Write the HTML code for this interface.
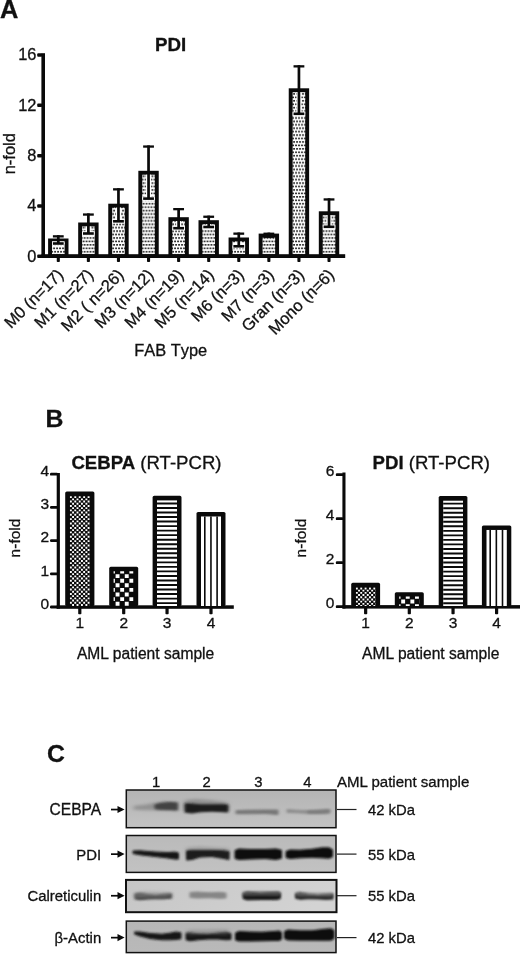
<!DOCTYPE html>
<html><head><meta charset="utf-8"><title>Figure</title>
<style>html,body{margin:0;padding:0;background:#fff}svg{display:block}text{font-family:"Liberation Sans",Arial,Helvetica,sans-serif;fill:#111;stroke:#111;stroke-width:0.3px}</style>
</head><body>
<svg width="520" height="954" viewBox="0 0 520 954">
<defs>
<pattern id="dots" width="2.95" height="6.86" patternUnits="userSpaceOnUse"><rect width="2.95" height="6.86" fill="#fff"/><rect x="0.15" y="0.45" width="1.75" height="1.75" rx="0.4" fill="#111"/><rect x="1.15" y="3.88" width="1.75" height="1.75" rx="0.4" fill="#111"/></pattern>
<pattern id="chkF" width="4.46" height="4.46" patternUnits="userSpaceOnUse"><rect width="4.46" height="4.46" fill="#000"/><rect x="0.3" y="0.3" width="1.7" height="1.7" fill="#fff"/><rect x="2.53" y="2.53" width="1.7" height="1.7" fill="#fff"/></pattern>
<pattern id="chkC" width="8.92" height="8.92" patternUnits="userSpaceOnUse"><rect width="8.92" height="8.92" fill="#000"/><rect x="0" y="0" width="4.46" height="4.46" fill="#fff"/><rect x="4.46" y="4.46" width="4.46" height="4.46" fill="#fff"/></pattern>
<pattern id="hst" width="10" height="4.55" patternUnits="userSpaceOnUse"><rect width="10" height="4.55" fill="#fff"/><rect x="0" y="0" width="10" height="1.9" fill="#000"/></pattern>
<pattern id="vst" width="6.15" height="10" patternUnits="userSpaceOnUse"><rect width="6.15" height="10" fill="#fff"/><rect x="0" y="0" width="1.6" height="10" fill="#000"/></pattern>
<filter id="b1" x="-20%" y="-100%" width="140%" height="300%"><feGaussianBlur stdDeviation="1.6 1.2"/></filter>
<filter id="b2" x="-20%" y="-100%" width="140%" height="300%"><feGaussianBlur stdDeviation="2.4 1.8"/></filter>
<filter id="b0" x="-20%" y="-100%" width="140%" height="300%"><feGaussianBlur stdDeviation="1.25 0.85"/></filter>
</defs>
<rect width="520" height="954" fill="#fff"/>
<g id="panelA">
<text x="0.1" y="17.7" font-size="25.4" font-weight="bold">A</text>
<text x="155.1" y="51" font-size="18.7" font-weight="bold">PDI</text>
<rect x="41.4" y="53.2" width="3.6" height="204.8" fill="#0a0a0a"/>
<rect x="41.4" y="254.2" width="303.8" height="3.8" fill="#0a0a0a"/>
<rect x="37.2" y="254.55" width="5" height="3.5" rx="1" fill="#0a0a0a"/>
<text x="36.4" y="261.50" font-size="16.4" text-anchor="end">0</text>
<rect x="37.2" y="204.22" width="5" height="3.5" rx="1" fill="#0a0a0a"/>
<text x="36.4" y="211.17" font-size="16.4" text-anchor="end">4</text>
<rect x="37.2" y="153.89" width="5" height="3.5" rx="1" fill="#0a0a0a"/>
<text x="36.4" y="160.84" font-size="16.4" text-anchor="end">8</text>
<rect x="37.2" y="103.55" width="5" height="3.5" rx="1" fill="#0a0a0a"/>
<text x="36.4" y="110.50" font-size="16.4" text-anchor="end">12</text>
<rect x="37.2" y="53.22" width="5" height="3.5" rx="1" fill="#0a0a0a"/>
<text x="36.4" y="60.17" font-size="16.4" text-anchor="end">16</text>
<text transform="translate(14.6,153.7) rotate(-90)" font-size="16.5" text-anchor="middle">n-fold</text>
<rect x="50.05" y="240.45" width="16.50" height="15.55" fill="url(#dots)" stroke="#0a0a0a" stroke-width="3.9"/>
<rect x="55.80" y="242.40" width="5.0" height="2.60" fill="#fff"/>
<rect x="52.00" y="241.20" width="12.6" height="4.6" fill="#fff"/>
<rect x="56.95" y="235.20" width="2.7" height="8.30" fill="#0a0a0a"/>
<rect x="52.90" y="235.20" width="10.8" height="2.3" fill="#0a0a0a"/>
<rect x="52.90" y="242.20" width="10.8" height="2.6" fill="#0a0a0a"/>
<rect x="56.75" y="257" width="3.1" height="5" rx="0.8" fill="#0a0a0a"/>
<text transform="translate(64.40,275.80) rotate(-45)" font-size="16.5" text-anchor="end">M0 (n=17)</text>
<rect x="80.13" y="224.45" width="16.50" height="31.55" fill="url(#dots)" stroke="#0a0a0a" stroke-width="3.9"/>
<rect x="85.88" y="226.40" width="5.0" height="8.60" fill="#fff"/>
<rect x="82.08" y="231.20" width="12.6" height="4.6" fill="#fff"/>
<rect x="87.03" y="213.40" width="2.7" height="20.10" fill="#0a0a0a"/>
<rect x="82.98" y="213.40" width="10.8" height="2.3" fill="#0a0a0a"/>
<rect x="82.98" y="232.20" width="10.8" height="2.6" fill="#0a0a0a"/>
<rect x="86.83" y="257" width="3.1" height="5" rx="0.8" fill="#0a0a0a"/>
<text transform="translate(94.48,275.80) rotate(-45)" font-size="16.5" text-anchor="end">M1 (n=27)</text>
<rect x="110.21" y="205.65" width="16.50" height="50.35" fill="url(#dots)" stroke="#0a0a0a" stroke-width="3.9"/>
<rect x="115.96" y="207.60" width="5.0" height="15.20" fill="#fff"/>
<rect x="112.16" y="219.00" width="12.6" height="4.6" fill="#fff"/>
<rect x="117.11" y="188.20" width="2.7" height="33.10" fill="#0a0a0a"/>
<rect x="113.06" y="188.20" width="10.8" height="2.3" fill="#0a0a0a"/>
<rect x="113.06" y="220.00" width="10.8" height="2.6" fill="#0a0a0a"/>
<rect x="116.91" y="257" width="3.1" height="5" rx="0.8" fill="#0a0a0a"/>
<text transform="translate(124.56,275.80) rotate(-45)" font-size="16.5" text-anchor="end">M2 ( n=26)</text>
<rect x="140.29" y="172.75" width="16.50" height="83.25" fill="url(#dots)" stroke="#0a0a0a" stroke-width="3.9"/>
<rect x="146.04" y="174.70" width="5.0" height="25.40" fill="#fff"/>
<rect x="142.24" y="196.30" width="12.6" height="4.6" fill="#fff"/>
<rect x="147.19" y="145.40" width="2.7" height="53.20" fill="#0a0a0a"/>
<rect x="143.14" y="145.40" width="10.8" height="2.3" fill="#0a0a0a"/>
<rect x="143.14" y="197.30" width="10.8" height="2.6" fill="#0a0a0a"/>
<rect x="146.99" y="257" width="3.1" height="5" rx="0.8" fill="#0a0a0a"/>
<text transform="translate(154.64,275.80) rotate(-45)" font-size="16.5" text-anchor="end">M3 (n=12)</text>
<rect x="170.37" y="219.15" width="16.50" height="36.85" fill="url(#dots)" stroke="#0a0a0a" stroke-width="3.9"/>
<rect x="176.12" y="221.10" width="5.0" height="8.60" fill="#fff"/>
<rect x="172.32" y="225.90" width="12.6" height="4.6" fill="#fff"/>
<rect x="177.27" y="208.00" width="2.7" height="20.20" fill="#0a0a0a"/>
<rect x="173.22" y="208.00" width="10.8" height="2.3" fill="#0a0a0a"/>
<rect x="173.22" y="226.90" width="10.8" height="2.6" fill="#0a0a0a"/>
<rect x="177.07" y="257" width="3.1" height="5" rx="0.8" fill="#0a0a0a"/>
<text transform="translate(184.72,275.80) rotate(-45)" font-size="16.5" text-anchor="end">M4 (n=19)</text>
<rect x="200.45" y="222.15" width="16.50" height="33.85" fill="url(#dots)" stroke="#0a0a0a" stroke-width="3.9"/>
<rect x="206.20" y="224.10" width="5.0" height="4.40" fill="#fff"/>
<rect x="202.40" y="224.70" width="12.6" height="4.6" fill="#fff"/>
<rect x="207.35" y="215.60" width="2.7" height="11.40" fill="#0a0a0a"/>
<rect x="203.30" y="215.60" width="10.8" height="2.3" fill="#0a0a0a"/>
<rect x="203.30" y="225.70" width="10.8" height="2.6" fill="#0a0a0a"/>
<rect x="207.15" y="257" width="3.1" height="5" rx="0.8" fill="#0a0a0a"/>
<text transform="translate(214.80,275.80) rotate(-45)" font-size="16.5" text-anchor="end">M5 (n=14)</text>
<rect x="230.53" y="239.45" width="16.50" height="16.55" fill="url(#dots)" stroke="#0a0a0a" stroke-width="3.9"/>
<rect x="236.28" y="241.40" width="5.0" height="6.40" fill="#fff"/>
<rect x="232.48" y="244.00" width="12.6" height="4.6" fill="#fff"/>
<rect x="237.43" y="232.50" width="2.7" height="13.80" fill="#0a0a0a"/>
<rect x="233.38" y="232.50" width="10.8" height="2.3" fill="#0a0a0a"/>
<rect x="233.38" y="245.00" width="10.8" height="2.6" fill="#0a0a0a"/>
<rect x="237.23" y="257" width="3.1" height="5" rx="0.8" fill="#0a0a0a"/>
<text transform="translate(244.88,275.80) rotate(-45)" font-size="16.5" text-anchor="end">M6 (n=3)</text>
<rect x="260.61" y="235.55" width="16.50" height="20.45" fill="url(#dots)" stroke="#0a0a0a" stroke-width="3.9"/>
<rect x="267.51" y="232.60" width="2.7" height="4.00" fill="#0a0a0a"/>
<rect x="263.46" y="232.60" width="10.8" height="2.3" fill="#0a0a0a"/>
<rect x="263.46" y="235.30" width="10.8" height="2.6" fill="#0a0a0a"/>
<rect x="267.31" y="257" width="3.1" height="5" rx="0.8" fill="#0a0a0a"/>
<text transform="translate(274.96,275.80) rotate(-45)" font-size="16.5" text-anchor="end">M7 (n=3)</text>
<rect x="290.69" y="90.25" width="16.50" height="165.75" fill="url(#dots)" stroke="#0a0a0a" stroke-width="3.9"/>
<rect x="296.44" y="92.20" width="5.0" height="23.10" fill="#fff"/>
<rect x="292.64" y="111.50" width="12.6" height="4.6" fill="#fff"/>
<rect x="297.59" y="65.20" width="2.7" height="48.60" fill="#0a0a0a"/>
<rect x="293.54" y="65.20" width="10.8" height="2.3" fill="#0a0a0a"/>
<rect x="293.54" y="112.50" width="10.8" height="2.6" fill="#0a0a0a"/>
<rect x="297.39" y="257" width="3.1" height="5" rx="0.8" fill="#0a0a0a"/>
<text transform="translate(305.04,275.80) rotate(-45)" font-size="16.5" text-anchor="end">Gran (n=3)</text>
<rect x="320.77" y="213.25" width="16.50" height="42.75" fill="url(#dots)" stroke="#0a0a0a" stroke-width="3.9"/>
<rect x="326.52" y="215.20" width="5.0" height="13.10" fill="#fff"/>
<rect x="322.72" y="224.50" width="12.6" height="4.6" fill="#fff"/>
<rect x="327.67" y="198.30" width="2.7" height="28.50" fill="#0a0a0a"/>
<rect x="323.62" y="198.30" width="10.8" height="2.3" fill="#0a0a0a"/>
<rect x="323.62" y="225.50" width="10.8" height="2.6" fill="#0a0a0a"/>
<rect x="327.47" y="257" width="3.1" height="5" rx="0.8" fill="#0a0a0a"/>
<text transform="translate(335.12,275.80) rotate(-45)" font-size="16.5" text-anchor="end">Mono (n=6)</text>
<text x="170.7" y="355.6" font-size="16.4" text-anchor="middle" style="font-kerning:none">FAB Type</text>
</g>
<g id="panelB">
<text x="45.5" y="427" font-size="24.8" font-weight="bold">B</text>
<text x="71.4" y="469.2" font-size="18.6"><tspan font-weight="bold">CEBPA</tspan> (RT-PCR)</text>
<text x="372.6" y="469.2" font-size="18.6"><tspan font-weight="bold">PDI</tspan> (RT-PCR)</text>
<rect x="56.7" y="473" width="3.2" height="135.6" fill="#0a0a0a"/>
<rect x="56.7" y="605.3" width="177.1" height="3.5" fill="#0a0a0a"/>
<rect x="50" y="605.60" width="8" height="2.8" rx="1.2" fill="#0a0a0a"/>
<text x="49.2" y="608.70" font-size="15.5" text-anchor="end">0</text>
<rect x="50" y="572.40" width="8" height="2.8" rx="1.2" fill="#0a0a0a"/>
<text x="49.2" y="575.50" font-size="15.5" text-anchor="end">1</text>
<rect x="50" y="539.20" width="8" height="2.8" rx="1.2" fill="#0a0a0a"/>
<text x="49.2" y="542.30" font-size="15.5" text-anchor="end">2</text>
<rect x="50" y="506.00" width="8" height="2.8" rx="1.2" fill="#0a0a0a"/>
<text x="49.2" y="509.10" font-size="15.5" text-anchor="end">3</text>
<rect x="50" y="472.80" width="8" height="2.8" rx="1.2" fill="#0a0a0a"/>
<text x="49.2" y="475.90" font-size="15.5" text-anchor="end">4</text>
<text transform="translate(19.5,538) rotate(-90)" font-size="15.5" text-anchor="middle">n-fold</text>
<rect x="65.20" y="491.50" width="29.20" height="114.50" rx="1.6" fill="#0a0a0a"/>
<clipPath id="cl1"><rect x="69.60" y="495.90" width="20.40" height="110.10"/></clipPath>
<g clip-path="url(#cl1)" fill="#fff">
<path d="M69.90 496.20h1.9v1.9h-1.9zM74.33 496.20h1.9v1.9h-1.9zM78.77 496.20h1.9v1.9h-1.9zM83.20 496.20h1.9v1.9h-1.9zM87.64 496.20h1.9v1.9h-1.9zM72.12 498.40h1.9v1.9h-1.9zM76.55 498.40h1.9v1.9h-1.9zM80.99 498.40h1.9v1.9h-1.9zM85.42 498.40h1.9v1.9h-1.9zM89.86 498.40h1.9v1.9h-1.9zM69.90 500.60h1.9v1.9h-1.9zM74.33 500.60h1.9v1.9h-1.9zM78.77 500.60h1.9v1.9h-1.9zM83.20 500.60h1.9v1.9h-1.9zM87.64 500.60h1.9v1.9h-1.9zM72.12 502.80h1.9v1.9h-1.9zM76.55 502.80h1.9v1.9h-1.9zM80.99 502.80h1.9v1.9h-1.9zM85.42 502.80h1.9v1.9h-1.9zM89.86 502.80h1.9v1.9h-1.9zM69.90 505.00h1.9v1.9h-1.9zM74.33 505.00h1.9v1.9h-1.9zM78.77 505.00h1.9v1.9h-1.9zM83.20 505.00h1.9v1.9h-1.9zM87.64 505.00h1.9v1.9h-1.9zM72.12 507.20h1.9v1.9h-1.9zM76.55 507.20h1.9v1.9h-1.9zM80.99 507.20h1.9v1.9h-1.9zM85.42 507.20h1.9v1.9h-1.9zM89.86 507.20h1.9v1.9h-1.9zM69.90 509.40h1.9v1.9h-1.9zM74.33 509.40h1.9v1.9h-1.9zM78.77 509.40h1.9v1.9h-1.9zM83.20 509.40h1.9v1.9h-1.9zM87.64 509.40h1.9v1.9h-1.9zM72.12 511.60h1.9v1.9h-1.9zM76.55 511.60h1.9v1.9h-1.9zM80.99 511.60h1.9v1.9h-1.9zM85.42 511.60h1.9v1.9h-1.9zM89.86 511.60h1.9v1.9h-1.9zM69.90 513.80h1.9v1.9h-1.9zM74.33 513.80h1.9v1.9h-1.9zM78.77 513.80h1.9v1.9h-1.9zM83.20 513.80h1.9v1.9h-1.9zM87.64 513.80h1.9v1.9h-1.9zM72.12 516.00h1.9v1.9h-1.9zM76.55 516.00h1.9v1.9h-1.9zM80.99 516.00h1.9v1.9h-1.9zM85.42 516.00h1.9v1.9h-1.9zM89.86 516.00h1.9v1.9h-1.9zM69.90 518.20h1.9v1.9h-1.9zM74.33 518.20h1.9v1.9h-1.9zM78.77 518.20h1.9v1.9h-1.9zM83.20 518.20h1.9v1.9h-1.9zM87.64 518.20h1.9v1.9h-1.9zM72.12 520.40h1.9v1.9h-1.9zM76.55 520.40h1.9v1.9h-1.9zM80.99 520.40h1.9v1.9h-1.9zM85.42 520.40h1.9v1.9h-1.9zM89.86 520.40h1.9v1.9h-1.9zM69.90 522.60h1.9v1.9h-1.9zM74.33 522.60h1.9v1.9h-1.9zM78.77 522.60h1.9v1.9h-1.9zM83.20 522.60h1.9v1.9h-1.9zM87.64 522.60h1.9v1.9h-1.9zM72.12 524.80h1.9v1.9h-1.9zM76.55 524.80h1.9v1.9h-1.9zM80.99 524.80h1.9v1.9h-1.9zM85.42 524.80h1.9v1.9h-1.9zM89.86 524.80h1.9v1.9h-1.9zM69.90 527.00h1.9v1.9h-1.9zM74.33 527.00h1.9v1.9h-1.9zM78.77 527.00h1.9v1.9h-1.9zM83.20 527.00h1.9v1.9h-1.9zM87.64 527.00h1.9v1.9h-1.9zM72.12 529.20h1.9v1.9h-1.9zM76.55 529.20h1.9v1.9h-1.9zM80.99 529.20h1.9v1.9h-1.9zM85.42 529.20h1.9v1.9h-1.9zM89.86 529.20h1.9v1.9h-1.9zM69.90 531.40h1.9v1.9h-1.9zM74.33 531.40h1.9v1.9h-1.9zM78.77 531.40h1.9v1.9h-1.9zM83.20 531.40h1.9v1.9h-1.9zM87.64 531.40h1.9v1.9h-1.9zM72.12 533.60h1.9v1.9h-1.9zM76.55 533.60h1.9v1.9h-1.9zM80.99 533.60h1.9v1.9h-1.9zM85.42 533.60h1.9v1.9h-1.9zM89.86 533.60h1.9v1.9h-1.9zM69.90 535.80h1.9v1.9h-1.9zM74.33 535.80h1.9v1.9h-1.9zM78.77 535.80h1.9v1.9h-1.9zM83.20 535.80h1.9v1.9h-1.9zM87.64 535.80h1.9v1.9h-1.9zM72.12 538.00h1.9v1.9h-1.9zM76.55 538.00h1.9v1.9h-1.9zM80.99 538.00h1.9v1.9h-1.9zM85.42 538.00h1.9v1.9h-1.9zM89.86 538.00h1.9v1.9h-1.9zM69.90 540.20h1.9v1.9h-1.9zM74.33 540.20h1.9v1.9h-1.9zM78.77 540.20h1.9v1.9h-1.9zM83.20 540.20h1.9v1.9h-1.9zM87.64 540.20h1.9v1.9h-1.9zM72.12 542.40h1.9v1.9h-1.9zM76.55 542.40h1.9v1.9h-1.9zM80.99 542.40h1.9v1.9h-1.9zM85.42 542.40h1.9v1.9h-1.9zM89.86 542.40h1.9v1.9h-1.9zM69.90 544.60h1.9v1.9h-1.9zM74.33 544.60h1.9v1.9h-1.9zM78.77 544.60h1.9v1.9h-1.9zM83.20 544.60h1.9v1.9h-1.9zM87.64 544.60h1.9v1.9h-1.9zM72.12 546.80h1.9v1.9h-1.9zM76.55 546.80h1.9v1.9h-1.9zM80.99 546.80h1.9v1.9h-1.9zM85.42 546.80h1.9v1.9h-1.9zM89.86 546.80h1.9v1.9h-1.9zM69.90 549.00h1.9v1.9h-1.9zM74.33 549.00h1.9v1.9h-1.9zM78.77 549.00h1.9v1.9h-1.9zM83.20 549.00h1.9v1.9h-1.9zM87.64 549.00h1.9v1.9h-1.9zM72.12 551.20h1.9v1.9h-1.9zM76.55 551.20h1.9v1.9h-1.9zM80.99 551.20h1.9v1.9h-1.9zM85.42 551.20h1.9v1.9h-1.9zM89.86 551.20h1.9v1.9h-1.9zM69.90 553.40h1.9v1.9h-1.9zM74.33 553.40h1.9v1.9h-1.9zM78.77 553.40h1.9v1.9h-1.9zM83.20 553.40h1.9v1.9h-1.9zM87.64 553.40h1.9v1.9h-1.9zM72.12 555.60h1.9v1.9h-1.9zM76.55 555.60h1.9v1.9h-1.9zM80.99 555.60h1.9v1.9h-1.9zM85.42 555.60h1.9v1.9h-1.9zM89.86 555.60h1.9v1.9h-1.9zM69.90 557.80h1.9v1.9h-1.9zM74.33 557.80h1.9v1.9h-1.9zM78.77 557.80h1.9v1.9h-1.9zM83.20 557.80h1.9v1.9h-1.9zM87.64 557.80h1.9v1.9h-1.9zM72.12 560.00h1.9v1.9h-1.9zM76.55 560.00h1.9v1.9h-1.9zM80.99 560.00h1.9v1.9h-1.9zM85.42 560.00h1.9v1.9h-1.9zM89.86 560.00h1.9v1.9h-1.9zM69.90 562.20h1.9v1.9h-1.9zM74.33 562.20h1.9v1.9h-1.9zM78.77 562.20h1.9v1.9h-1.9zM83.20 562.20h1.9v1.9h-1.9zM87.64 562.20h1.9v1.9h-1.9zM72.12 564.40h1.9v1.9h-1.9zM76.55 564.40h1.9v1.9h-1.9zM80.99 564.40h1.9v1.9h-1.9zM85.42 564.40h1.9v1.9h-1.9zM89.86 564.40h1.9v1.9h-1.9zM69.90 566.60h1.9v1.9h-1.9zM74.33 566.60h1.9v1.9h-1.9zM78.77 566.60h1.9v1.9h-1.9zM83.20 566.60h1.9v1.9h-1.9zM87.64 566.60h1.9v1.9h-1.9zM72.12 568.80h1.9v1.9h-1.9zM76.55 568.80h1.9v1.9h-1.9zM80.99 568.80h1.9v1.9h-1.9zM85.42 568.80h1.9v1.9h-1.9zM89.86 568.80h1.9v1.9h-1.9zM69.90 571.00h1.9v1.9h-1.9zM74.33 571.00h1.9v1.9h-1.9zM78.77 571.00h1.9v1.9h-1.9zM83.20 571.00h1.9v1.9h-1.9zM87.64 571.00h1.9v1.9h-1.9zM72.12 573.20h1.9v1.9h-1.9zM76.55 573.20h1.9v1.9h-1.9zM80.99 573.20h1.9v1.9h-1.9zM85.42 573.20h1.9v1.9h-1.9zM89.86 573.20h1.9v1.9h-1.9zM69.90 575.40h1.9v1.9h-1.9zM74.33 575.40h1.9v1.9h-1.9zM78.77 575.40h1.9v1.9h-1.9zM83.20 575.40h1.9v1.9h-1.9zM87.64 575.40h1.9v1.9h-1.9zM72.12 577.60h1.9v1.9h-1.9zM76.55 577.60h1.9v1.9h-1.9zM80.99 577.60h1.9v1.9h-1.9zM85.42 577.60h1.9v1.9h-1.9zM89.86 577.60h1.9v1.9h-1.9zM69.90 579.80h1.9v1.9h-1.9zM74.33 579.80h1.9v1.9h-1.9zM78.77 579.80h1.9v1.9h-1.9zM83.20 579.80h1.9v1.9h-1.9zM87.64 579.80h1.9v1.9h-1.9zM72.12 582.00h1.9v1.9h-1.9zM76.55 582.00h1.9v1.9h-1.9zM80.99 582.00h1.9v1.9h-1.9zM85.42 582.00h1.9v1.9h-1.9zM89.86 582.00h1.9v1.9h-1.9zM69.90 584.20h1.9v1.9h-1.9zM74.33 584.20h1.9v1.9h-1.9zM78.77 584.20h1.9v1.9h-1.9zM83.20 584.20h1.9v1.9h-1.9zM87.64 584.20h1.9v1.9h-1.9zM72.12 586.40h1.9v1.9h-1.9zM76.55 586.40h1.9v1.9h-1.9zM80.99 586.40h1.9v1.9h-1.9zM85.42 586.40h1.9v1.9h-1.9zM89.86 586.40h1.9v1.9h-1.9zM69.90 588.60h1.9v1.9h-1.9zM74.33 588.60h1.9v1.9h-1.9zM78.77 588.60h1.9v1.9h-1.9zM83.20 588.60h1.9v1.9h-1.9zM87.64 588.60h1.9v1.9h-1.9zM72.12 590.80h1.9v1.9h-1.9zM76.55 590.80h1.9v1.9h-1.9zM80.99 590.80h1.9v1.9h-1.9zM85.42 590.80h1.9v1.9h-1.9zM89.86 590.80h1.9v1.9h-1.9zM69.90 593.00h1.9v1.9h-1.9zM74.33 593.00h1.9v1.9h-1.9zM78.77 593.00h1.9v1.9h-1.9zM83.20 593.00h1.9v1.9h-1.9zM87.64 593.00h1.9v1.9h-1.9zM72.12 595.20h1.9v1.9h-1.9zM76.55 595.20h1.9v1.9h-1.9zM80.99 595.20h1.9v1.9h-1.9zM85.42 595.20h1.9v1.9h-1.9zM89.86 595.20h1.9v1.9h-1.9zM69.90 597.40h1.9v1.9h-1.9zM74.33 597.40h1.9v1.9h-1.9zM78.77 597.40h1.9v1.9h-1.9zM83.20 597.40h1.9v1.9h-1.9zM87.64 597.40h1.9v1.9h-1.9zM72.12 599.60h1.9v1.9h-1.9zM76.55 599.60h1.9v1.9h-1.9zM80.99 599.60h1.9v1.9h-1.9zM85.42 599.60h1.9v1.9h-1.9zM89.86 599.60h1.9v1.9h-1.9zM69.90 601.80h1.9v1.9h-1.9zM74.33 601.80h1.9v1.9h-1.9zM78.77 601.80h1.9v1.9h-1.9zM83.20 601.80h1.9v1.9h-1.9zM87.64 601.80h1.9v1.9h-1.9zM72.12 604.00h1.9v1.9h-1.9zM76.55 604.00h1.9v1.9h-1.9zM80.99 604.00h1.9v1.9h-1.9zM85.42 604.00h1.9v1.9h-1.9zM89.86 604.00h1.9v1.9h-1.9z"/>
</g>
<rect x="78.20" y="607" width="3.2" height="7.2" rx="0.8" fill="#0a0a0a"/>
<text x="79.80" y="628.2" font-size="15.5" text-anchor="middle">1</text>
<rect x="109.20" y="566.80" width="29.00" height="39.20" rx="1.6" fill="#0a0a0a"/>
<clipPath id="cl2"><rect x="113.60" y="571.20" width="20.20" height="34.80"/></clipPath>
<g clip-path="url(#cl2)" fill="#fff">
<path d="M111.00 569.55h3.90v3.90h-3.90zM120.20 569.55h3.90v3.90h-3.90zM129.40 569.55h3.90v3.90h-3.90zM115.60 574.15h3.90v3.90h-3.90zM124.80 574.15h3.90v3.90h-3.90zM134.00 574.15h3.90v3.90h-3.90zM111.00 578.75h3.90v3.90h-3.90zM120.20 578.75h3.90v3.90h-3.90zM129.40 578.75h3.90v3.90h-3.90zM115.60 583.35h3.90v3.90h-3.90zM124.80 583.35h3.90v3.90h-3.90zM134.00 583.35h3.90v3.90h-3.90zM111.00 587.95h3.90v3.90h-3.90zM120.20 587.95h3.90v3.90h-3.90zM129.40 587.95h3.90v3.90h-3.90zM115.60 592.55h3.90v3.90h-3.90zM124.80 592.55h3.90v3.90h-3.90zM134.00 592.55h3.90v3.90h-3.90zM111.00 597.15h3.90v3.90h-3.90zM120.20 597.15h3.90v3.90h-3.90zM129.40 597.15h3.90v3.90h-3.90zM115.60 601.75h3.90v3.90h-3.90zM124.80 601.75h3.90v3.90h-3.90zM134.00 601.75h3.90v3.90h-3.90zM111.00 606.35h3.90v3.90h-3.90zM120.20 606.35h3.90v3.90h-3.90zM129.40 606.35h3.90v3.90h-3.90z"/>
</g>
<rect x="122.10" y="607" width="3.2" height="7.2" rx="0.8" fill="#0a0a0a"/>
<text x="123.70" y="628.2" font-size="15.5" text-anchor="middle">2</text>
<rect x="152.60" y="495.80" width="28.90" height="110.20" rx="1.6" fill="#0a0a0a"/>
<clipPath id="cl3"><rect x="157.00" y="500.20" width="20.10" height="105.80"/></clipPath>
<g clip-path="url(#cl3)" fill="#fff">
<rect x="157.00" y="500.20" width="20.10" height="105.80"/>
<path fill="#0a0a0a" d="M157.00 502.50h20.10v1.9h-20.10zM157.00 507.03h20.10v1.9h-20.10zM157.00 511.56h20.10v1.9h-20.10zM157.00 516.09h20.10v1.9h-20.10zM157.00 520.62h20.10v1.9h-20.10zM157.00 525.15h20.10v1.9h-20.10zM157.00 529.68h20.10v1.9h-20.10zM157.00 534.21h20.10v1.9h-20.10zM157.00 538.74h20.10v1.9h-20.10zM157.00 543.27h20.10v1.9h-20.10zM157.00 547.80h20.10v1.9h-20.10zM157.00 552.33h20.10v1.9h-20.10zM157.00 556.86h20.10v1.9h-20.10zM157.00 561.39h20.10v1.9h-20.10zM157.00 565.92h20.10v1.9h-20.10zM157.00 570.45h20.10v1.9h-20.10zM157.00 574.98h20.10v1.9h-20.10zM157.00 579.51h20.10v1.9h-20.10zM157.00 584.04h20.10v1.9h-20.10zM157.00 588.57h20.10v1.9h-20.10zM157.00 593.10h20.10v1.9h-20.10zM157.00 597.63h20.10v1.9h-20.10zM157.00 602.16h20.10v1.9h-20.10z"/>
</g>
<rect x="165.45" y="607" width="3.2" height="7.2" rx="0.8" fill="#0a0a0a"/>
<text x="167.05" y="628.2" font-size="15.5" text-anchor="middle">3</text>
<rect x="196.50" y="511.90" width="29.00" height="94.10" rx="1.6" fill="#0a0a0a"/>
<clipPath id="cl4"><rect x="200.90" y="516.30" width="20.20" height="89.70"/></clipPath>
<g clip-path="url(#cl4)" fill="#fff">
<rect x="200.90" y="516.30" width="20.20" height="89.70"/>
<path fill="#0a0a0a" d="M204.00 516.30h1.6v89.70h-1.6zM210.15 516.30h1.6v89.70h-1.6zM216.30 516.30h1.6v89.70h-1.6z"/>
</g>
<rect x="209.40" y="607" width="3.2" height="7.2" rx="0.8" fill="#0a0a0a"/>
<text x="211.00" y="628.2" font-size="15.5" text-anchor="middle">4</text>
<text x="145.6" y="658.6" font-size="15.6" text-anchor="middle">AML patient sample</text>
<rect x="342.4" y="472.5" width="3.1" height="136" fill="#0a0a0a"/>
<rect x="342.4" y="605.1" width="177.6" height="3.5" fill="#0a0a0a"/>
<rect x="335.8" y="605.30" width="7.5" height="2.8" rx="1.2" fill="#0a0a0a"/>
<text x="334.3" y="608.20" font-size="15.5" text-anchor="end">0</text>
<rect x="335.8" y="561.30" width="7.5" height="2.8" rx="1.2" fill="#0a0a0a"/>
<text x="334.3" y="564.20" font-size="15.5" text-anchor="end">2</text>
<rect x="335.8" y="517.30" width="7.5" height="2.8" rx="1.2" fill="#0a0a0a"/>
<text x="334.3" y="520.20" font-size="15.5" text-anchor="end">4</text>
<rect x="335.8" y="473.30" width="7.5" height="2.8" rx="1.2" fill="#0a0a0a"/>
<text x="334.3" y="476.20" font-size="15.5" text-anchor="end">6</text>
<text transform="translate(306.3,538) rotate(-90)" font-size="15.5" text-anchor="middle">n-fold</text>
<rect x="351.20" y="582.80" width="28.90" height="23.20" rx="1.6" fill="#0a0a0a"/>
<clipPath id="cl5"><rect x="355.60" y="587.20" width="20.10" height="18.80"/></clipPath>
<g clip-path="url(#cl5)" fill="#fff">
<path d="M355.90 587.50h1.9v1.9h-1.9zM360.27 587.50h1.9v1.9h-1.9zM364.64 587.50h1.9v1.9h-1.9zM369.01 587.50h1.9v1.9h-1.9zM373.38 587.50h1.9v1.9h-1.9zM358.08 589.70h1.9v1.9h-1.9zM362.45 589.70h1.9v1.9h-1.9zM366.82 589.70h1.9v1.9h-1.9zM371.19 589.70h1.9v1.9h-1.9zM375.56 589.70h1.9v1.9h-1.9zM355.90 591.90h1.9v1.9h-1.9zM360.27 591.90h1.9v1.9h-1.9zM364.64 591.90h1.9v1.9h-1.9zM369.01 591.90h1.9v1.9h-1.9zM373.38 591.90h1.9v1.9h-1.9zM358.08 594.10h1.9v1.9h-1.9zM362.45 594.10h1.9v1.9h-1.9zM366.82 594.10h1.9v1.9h-1.9zM371.19 594.10h1.9v1.9h-1.9zM375.56 594.10h1.9v1.9h-1.9zM355.90 596.30h1.9v1.9h-1.9zM360.27 596.30h1.9v1.9h-1.9zM364.64 596.30h1.9v1.9h-1.9zM369.01 596.30h1.9v1.9h-1.9zM373.38 596.30h1.9v1.9h-1.9zM358.08 598.50h1.9v1.9h-1.9zM362.45 598.50h1.9v1.9h-1.9zM366.82 598.50h1.9v1.9h-1.9zM371.19 598.50h1.9v1.9h-1.9zM375.56 598.50h1.9v1.9h-1.9zM355.90 600.70h1.9v1.9h-1.9zM360.27 600.70h1.9v1.9h-1.9zM364.64 600.70h1.9v1.9h-1.9zM369.01 600.70h1.9v1.9h-1.9zM373.38 600.70h1.9v1.9h-1.9zM358.08 602.90h1.9v1.9h-1.9zM362.45 602.90h1.9v1.9h-1.9zM366.82 602.90h1.9v1.9h-1.9zM371.19 602.90h1.9v1.9h-1.9zM375.56 602.90h1.9v1.9h-1.9zM355.90 605.10h1.9v1.9h-1.9zM360.27 605.10h1.9v1.9h-1.9zM364.64 605.10h1.9v1.9h-1.9zM369.01 605.10h1.9v1.9h-1.9zM373.38 605.10h1.9v1.9h-1.9z"/>
</g>
<rect x="364.05" y="606.7" width="3.2" height="7.5" rx="0.8" fill="#0a0a0a"/>
<text x="365.65" y="628.2" font-size="15.5" text-anchor="middle">1</text>
<rect x="394.80" y="592.20" width="29.00" height="13.80" rx="1.6" fill="#0a0a0a"/>
<clipPath id="cl6"><rect x="399.20" y="596.60" width="20.20" height="9.40"/></clipPath>
<g clip-path="url(#cl6)" fill="#fff">
<path d="M396.60 594.95h3.90v3.90h-3.90zM405.80 594.95h3.90v3.90h-3.90zM415.00 594.95h3.90v3.90h-3.90zM401.20 599.55h3.90v3.90h-3.90zM410.40 599.55h3.90v3.90h-3.90zM419.60 599.55h3.90v3.90h-3.90zM396.60 604.15h3.90v3.90h-3.90zM405.80 604.15h3.90v3.90h-3.90zM415.00 604.15h3.90v3.90h-3.90z"/>
</g>
<rect x="407.70" y="606.7" width="3.2" height="7.5" rx="0.8" fill="#0a0a0a"/>
<text x="409.30" y="628.2" font-size="15.5" text-anchor="middle">2</text>
<rect x="438.70" y="496.00" width="28.70" height="110.00" rx="1.6" fill="#0a0a0a"/>
<clipPath id="cl7"><rect x="443.10" y="500.40" width="19.90" height="105.60"/></clipPath>
<g clip-path="url(#cl7)" fill="#fff">
<rect x="443.10" y="500.40" width="19.90" height="105.60"/>
<path fill="#0a0a0a" d="M443.10 502.70h19.90v1.9h-19.90zM443.10 507.23h19.90v1.9h-19.90zM443.10 511.76h19.90v1.9h-19.90zM443.10 516.29h19.90v1.9h-19.90zM443.10 520.82h19.90v1.9h-19.90zM443.10 525.35h19.90v1.9h-19.90zM443.10 529.88h19.90v1.9h-19.90zM443.10 534.41h19.90v1.9h-19.90zM443.10 538.94h19.90v1.9h-19.90zM443.10 543.47h19.90v1.9h-19.90zM443.10 548.00h19.90v1.9h-19.90zM443.10 552.53h19.90v1.9h-19.90zM443.10 557.06h19.90v1.9h-19.90zM443.10 561.59h19.90v1.9h-19.90zM443.10 566.12h19.90v1.9h-19.90zM443.10 570.65h19.90v1.9h-19.90zM443.10 575.18h19.90v1.9h-19.90zM443.10 579.71h19.90v1.9h-19.90zM443.10 584.24h19.90v1.9h-19.90zM443.10 588.77h19.90v1.9h-19.90zM443.10 593.30h19.90v1.9h-19.90zM443.10 597.83h19.90v1.9h-19.90zM443.10 602.36h19.90v1.9h-19.90z"/>
</g>
<rect x="451.45" y="606.7" width="3.2" height="7.5" rx="0.8" fill="#0a0a0a"/>
<text x="453.05" y="628.2" font-size="15.5" text-anchor="middle">3</text>
<rect x="481.90" y="525.40" width="29.40" height="80.60" rx="1.6" fill="#0a0a0a"/>
<clipPath id="cl8"><rect x="486.30" y="529.80" width="20.60" height="76.20"/></clipPath>
<g clip-path="url(#cl8)" fill="#fff">
<rect x="486.30" y="529.80" width="20.60" height="76.20"/>
<path fill="#0a0a0a" d="M489.40 529.80h1.6v76.20h-1.6zM495.55 529.80h1.6v76.20h-1.6zM501.70 529.80h1.6v76.20h-1.6z"/>
</g>
<rect x="495.00" y="606.7" width="3.2" height="7.5" rx="0.8" fill="#0a0a0a"/>
<text x="496.60" y="628.2" font-size="15.5" text-anchor="middle">4</text>
<text x="430.7" y="658.6" font-size="15.6" text-anchor="middle">AML patient sample</text>
</g>
<g id="panelC">
<text x="46.9" y="762.2" font-size="24.8" font-weight="bold">C</text>
<text x="156" y="786.5" font-size="14.8" text-anchor="middle">1</text>
<text x="206.7" y="786.5" font-size="14.8" text-anchor="middle">2</text>
<text x="258.3" y="786.5" font-size="14.8" text-anchor="middle">3</text>
<text x="307.4" y="786.5" font-size="14.8" text-anchor="middle">4</text>
<text x="336.9" y="787.2" font-size="15.05">AML patient sample</text>
<linearGradient id="g1" x1="0" y1="0" x2="0" y2="1"><stop offset="0" stop-color="#b4b4b4"/><stop offset="1" stop-color="#c3c3c3"/></linearGradient>
<linearGradient id="g2" x1="0" y1="0" x2="0" y2="1"><stop offset="0" stop-color="#bababa"/><stop offset="1" stop-color="#c2c2c2"/></linearGradient>
<linearGradient id="g3" x1="0" y1="0" x2="1" y2="0.15"><stop offset="0" stop-color="#c6c6c6"/><stop offset="1" stop-color="#d3d3d3"/></linearGradient>
<linearGradient id="g4" x1="0" y1="0" x2="0" y2="1"><stop offset="0" stop-color="#b6b6b6"/><stop offset="1" stop-color="#b9b9b9"/></linearGradient>
<rect x="126.3" y="790.0" width="209.7" height="37.7" fill="url(#g1)"/>
<rect x="126.3" y="835.5" width="209.7" height="36.9" fill="url(#g2)"/>
<rect x="126.0" y="879.9" width="210.5" height="32.3" fill="url(#g3)"/>
<rect x="126.3" y="921.1" width="209.7" height="31.5" fill="url(#g4)"/>
<path d="M134.0 806.3 L145.0 805.2 L155.0 803.2 L165.0 801.8 L177.0 802.2 L177.0 810.8 L165.0 810.2 L155.0 809.8 L145.0 809.8 L134.0 809.3Z" fill="#808080" opacity="0.7" filter="url(#b2)" stroke="#808080" stroke-width="1" stroke-linejoin="round"/>
<path d="M155.0 804.8 L161.0 803.3 L170.0 802.5 L177.5 803.0 L177.5 810.0 L170.0 809.5 L161.0 809.3 L155.0 808.8Z" fill="#353535" opacity="0.85" filter="url(#b1)" stroke="#353535" stroke-width="1" stroke-linejoin="round"/>
<path d="M185.0 800.5 L195.0 799.5 L210.0 800.5 L227.0 802.5 L227.0 809.5 L210.0 808.5 L195.0 808.5 L185.0 809.5Z" fill="#666" opacity="0.5" filter="url(#b2)" stroke="#666" stroke-width="1" stroke-linejoin="round"/>
<path d="M185.0 803.8 L192.0 804.0 L200.0 804.8 L212.0 804.8 L222.0 804.7 L228.0 805.0 L228.0 812.0 L222.0 811.7 L212.0 811.2 L200.0 811.8 L192.0 813.0 L185.0 812.2Z" fill="#1e1e1e" opacity="1" filter="url(#b1)" stroke="#1e1e1e" stroke-width="1" stroke-linejoin="round"/>
<path d="M236.0 810.7 L245.0 810.2 L265.0 810.0 L278.0 810.0 L278.0 814.5 L265.0 813.5 L245.0 813.8 L236.0 813.7Z" fill="#666" opacity="0.8" filter="url(#b1)" stroke="#666" stroke-width="1" stroke-linejoin="round"/>
<path d="M287.0 809.5 L297.0 810.2 L310.0 810.5 L320.0 810.0 L330.0 809.5 L330.0 813.0 L320.0 813.5 L310.0 813.5 L297.0 812.8 L287.0 812.5Z" fill="#7a7a7a" opacity="0.7" filter="url(#b1)" stroke="#7a7a7a" stroke-width="1" stroke-linejoin="round"/>
<path d="M308.0 810.8 L320.0 810.3 L329.0 809.8 L329.0 812.8 L320.0 813.3 L308.0 813.2Z" fill="#666" opacity="0.45" filter="url(#b1)" stroke="#666" stroke-width="1" stroke-linejoin="round"/>
<path d="M133.0 851.0 L140.0 850.8 L155.0 852.0 L168.0 852.5 L175.0 852.1 L178.5 853.0 L178.5 859.0 L175.0 859.1 L168.0 858.0 L155.0 856.5 L140.0 854.8 L133.0 853.5Z" fill="#161616" opacity="1" filter="url(#b0)" stroke="#161616" stroke-width="1" stroke-linejoin="round"/>
<path d="M187.0 848.0 L200.0 847.0 L215.0 848.0 L228.0 848.5 L228.0 855.5 L215.0 854.0 L200.0 854.0 L187.0 856.0Z" fill="#777" opacity="0.45" filter="url(#b2)" stroke="#777" stroke-width="1" stroke-linejoin="round"/>
<path d="M186.5 851.0 L192.0 850.5 L200.0 850.5 L212.0 850.5 L222.0 850.8 L229.0 851.5 L229.0 859.5 L222.0 858.2 L212.0 856.5 L200.0 857.0 L192.0 859.5 L186.5 860.0Z" fill="#1a1a1a" opacity="1" filter="url(#b0)" stroke="#1a1a1a" stroke-width="1" stroke-linejoin="round"/>
<path d="M235.0 850.5 L239.0 849.0 L250.0 849.5 L265.0 849.5 L276.0 849.0 L281.5 850.3 L281.5 858.3 L276.0 859.5 L265.0 858.5 L250.0 859.0 L239.0 859.5 L235.0 858.5Z" fill="#0e0e0e" opacity="1" filter="url(#b0)" stroke="#0e0e0e" stroke-width="1" stroke-linejoin="round"/>
<path d="M286.0 851.5 L290.0 850.0 L300.0 850.2 L312.0 849.3 L322.0 847.8 L329.0 847.8 L332.5 849.8 L332.5 856.8 L329.0 858.2 L322.0 857.8 L312.0 857.3 L300.0 857.8 L290.0 858.5 L286.0 857.5Z" fill="#0e0e0e" opacity="1" filter="url(#b0)" stroke="#0e0e0e" stroke-width="1" stroke-linejoin="round"/>
<path d="M135.0 894.0 L140.0 893.2 L148.0 894.5 L156.0 895.2 L164.0 894.2 L171.5 893.8 L171.5 898.2 L164.0 898.8 L156.0 898.8 L148.0 899.0 L140.0 899.8 L135.0 899.0Z" fill="#3a3a3a" opacity="0.95" filter="url(#b1)" stroke="#3a3a3a" stroke-width="1" stroke-linejoin="round"/>
<path d="M135.0 892.5 L145.0 892.0 L170.0 892.5 L170.0 896.5 L145.0 897.0 L135.0 897.5Z" fill="#888" opacity="0.5" filter="url(#b2)" stroke="#888" stroke-width="1" stroke-linejoin="round"/>
<path d="M190.0 892.5 L197.0 892.0 L210.0 892.8 L220.0 892.3 L226.0 893.0 L226.0 898.0 L220.0 898.3 L210.0 897.8 L197.0 898.0 L190.0 897.5Z" fill="#7a7a7a" opacity="0.85" filter="url(#b1)" stroke="#7a7a7a" stroke-width="1" stroke-linejoin="round"/>
<path d="M243.0 893.5 L247.0 892.2 L260.0 893.0 L272.0 892.5 L278.0 892.3 L280.5 893.3 L280.5 898.3 L278.0 899.3 L272.0 899.5 L260.0 899.5 L247.0 899.8 L243.0 898.5Z" fill="#121212" opacity="1" filter="url(#b0)" stroke="#121212" stroke-width="1" stroke-linejoin="round"/>
<path d="M243.0 891.5 L262.0 891.3 L280.0 891.5 L280.0 895.5 L262.0 895.3 L243.0 895.5Z" fill="#777" opacity="0.5" filter="url(#b1)" stroke="#777" stroke-width="1" stroke-linejoin="round"/>
<path d="M295.5 893.8 L300.0 892.8 L308.0 894.2 L318.0 895.1 L326.0 894.3 L333.0 894.0 L333.0 899.0 L326.0 899.3 L318.0 898.9 L308.0 898.8 L300.0 899.2 L295.5 898.2Z" fill="#222" opacity="1" filter="url(#b0)" stroke="#222" stroke-width="1" stroke-linejoin="round"/>
<path d="M296.0 892.0 L315.0 892.8 L332.0 892.5 L332.0 896.5 L315.0 896.2 L296.0 896.0Z" fill="#888" opacity="0.5" filter="url(#b1)" stroke="#888" stroke-width="1" stroke-linejoin="round"/>
<path d="M134.5 932.0 L140.0 932.0 L150.0 933.5 L162.0 934.2 L170.0 933.2 L176.0 932.0 L181.0 932.8 L181.0 938.8 L176.0 939.5 L170.0 939.8 L162.0 939.8 L150.0 938.5 L140.0 936.0 L134.5 934.0Z" fill="#181818" opacity="1" filter="url(#b0)" stroke="#181818" stroke-width="1" stroke-linejoin="round"/>
<path d="M186.0 933.2 L190.0 932.8 L198.0 933.8 L208.0 934.0 L218.0 933.0 L226.0 932.2 L231.0 933.5 L231.0 939.5 L226.0 939.8 L218.0 939.0 L208.0 939.0 L198.0 939.8 L190.0 940.8 L186.0 939.8Z" fill="#181818" opacity="1" filter="url(#b0)" stroke="#181818" stroke-width="1" stroke-linejoin="round"/>
<path d="M188.0 930.0 L205.0 930.0 L228.0 929.5 L228.0 934.5 L205.0 934.0 L188.0 935.0Z" fill="#777" opacity="0.4" filter="url(#b2)" stroke="#777" stroke-width="1" stroke-linejoin="round"/>
<path d="M235.5 933.0 L239.0 931.5 L250.0 932.0 L262.0 932.2 L274.0 931.5 L279.0 931.0 L281.5 932.3 L281.5 939.3 L279.0 940.5 L274.0 940.5 L262.0 940.8 L250.0 941.0 L239.0 941.0 L235.5 940.0Z" fill="#0e0e0e" opacity="1" filter="url(#b0)" stroke="#0e0e0e" stroke-width="1" stroke-linejoin="round"/>
<path d="M284.5 931.5 L288.0 930.0 L300.0 930.8 L312.0 930.8 L324.0 929.3 L331.0 928.8 L334.0 930.5 L334.0 938.5 L331.0 940.2 L324.0 940.3 L312.0 940.2 L300.0 940.2 L288.0 940.0 L284.5 938.5Z" fill="#0e0e0e" opacity="1" filter="url(#b0)" stroke="#0e0e0e" stroke-width="1" stroke-linejoin="round"/>
<rect x="126.3" y="790.0" width="209.7" height="37.7" fill="none" stroke="#111" stroke-width="1.5"/>
<text x="101.2" y="815.1" font-size="15.6" text-anchor="end">CEBPA</text>
<text x="368" y="815.2" font-size="14.8">42 kDa</text>
<rect x="111" y="808.7" width="8" height="1.7" fill="#0a0a0a"/>
<path d="M117.5 805.9 L124.6 809.5 L117.5 813.1 Z" fill="#0a0a0a"/>
<rect x="337" y="808.9" width="19.5" height="1.2" fill="#222"/>
<rect x="126.3" y="835.5" width="209.7" height="36.9" fill="none" stroke="#111" stroke-width="1.5"/>
<text x="101.2" y="859.7" font-size="14.9" text-anchor="end">PDI</text>
<text x="368" y="859.8" font-size="14.8">55 kDa</text>
<rect x="111" y="853.3" width="8" height="1.7" fill="#0a0a0a"/>
<path d="M117.5 850.5 L124.6 854.1 L117.5 857.7 Z" fill="#0a0a0a"/>
<rect x="337" y="853.5" width="19.5" height="1.2" fill="#222"/>
<rect x="126.0" y="879.9" width="210.5" height="32.3" fill="none" stroke="#111" stroke-width="2.0"/>
<text x="101.2" y="901.3" font-size="14.9" text-anchor="end">Calreticulin</text>
<text x="368" y="901.4" font-size="14.8">55 kDa</text>
<rect x="111" y="894.9" width="8" height="1.7" fill="#0a0a0a"/>
<path d="M117.5 892.1 L124.6 895.7 L117.5 899.3 Z" fill="#0a0a0a"/>
<rect x="337" y="895.1" width="19.5" height="1.2" fill="#222"/>
<rect x="126.3" y="921.1" width="209.7" height="31.5" fill="none" stroke="#111" stroke-width="1.5"/>
<text x="101.2" y="943.2" font-size="14.9" text-anchor="end">β-Actin</text>
<text x="368" y="943.3" font-size="14.8">42 kDa</text>
<rect x="111" y="936.8" width="8" height="1.7" fill="#0a0a0a"/>
<path d="M117.5 934.0 L124.6 937.6 L117.5 941.2 Z" fill="#0a0a0a"/>
<rect x="337" y="937.0" width="19.5" height="1.2" fill="#222"/>
</g>
</svg></body></html>
